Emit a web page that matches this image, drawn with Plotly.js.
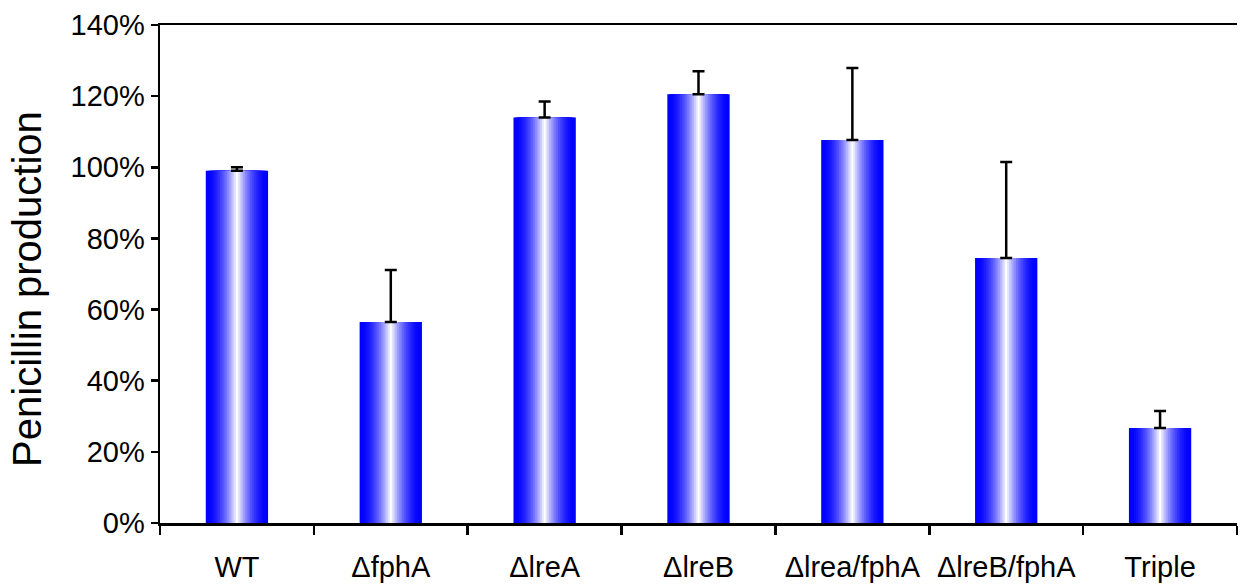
<!DOCTYPE html>
<html>
<head>
<meta charset="utf-8">
<script src="https://cdn.plot.ly/plotly-3.0.1.min.js"></script>
<style>html,body{margin:0;padding:0;background:#fff;}#chart{width:1248px;height:586px;}</style>
</head>
<body>
<div id="chart"></div>
<script>
const categories = ["WT", "ΔfphA", "ΔlreA", "ΔlreB", "Δlrea/fphA", "ΔlreB/fphA", "Triple"];
const production = [0.99, 0.565, 1.14, 1.205, 1.077, 0.745, 0.267];
const errorUp = [0.01, 0.146, 0.045, 0.065, 0.202, 0.27, 0.048];
const yTickVals = [0, 0.2, 0.4, 0.6, 0.8, 1.0, 1.2, 1.4];
const yTickText = ["0%", "20%", "40%", "60%", "80%", "100%", "120%", "140%"];
const yTitle = "Penicillin production";

// gradient simulated by overlaid bars of decreasing width
const layers = 18;
const outerWidth = 0.405;
const traces = [];
for (let i = 0; i < layers; i++) {
  const t = i / (layers - 1);
  const w = outerWidth * (1 - t) + 0.012 * t;
  const mix = Math.pow(t, 1.8);
  const rg = Math.round(255 * mix);
  const tr = {
    type: "bar",
    x: categories,
    y: production,
    width: w,
    marker: {color: `rgb(${rg},${rg},255)`, line: {width: 0}},
    hoverinfo: "skip",
    showlegend: false
  };
  if (i === layers - 1) {
    tr.error_y = {type: "data", symmetric: false, array: errorUp, arrayminus: production.map(() => 0),
                  color: "#000", thickness: 2.5, width: 6};
  }
  traces.push(tr);
}

const layout = {
  width: 1248, height: 586,
  margin: {l: 160, r: 11, t: 25, b: 63},
  paper_bgcolor: "#fff", plot_bgcolor: "#fff",
  barmode: "overlay",
  font: {family: "Liberation Sans, Arial, sans-serif", color: "#000"},
  xaxis: {
    type: "category",
    tickson: "boundaries",
    ticks: "outside", ticklen: 9, tickwidth: 2.5, tickcolor: "#000",
    showline: true, linecolor: "#000", linewidth: 2.5, mirror: true,
    showgrid: false, zeroline: false,
    tickfont: {size: 29, color: "#000"},
    ticklabelstandoff: 17
  },
  yaxis: {
    range: [0, 1.4],
    tickvals: yTickVals, ticktext: yTickText,
    ticks: "outside", ticklen: 7, tickwidth: 2.5, tickcolor: "#000",
    showline: true, linecolor: "#000", linewidth: 2.5,
    showgrid: false, zeroline: false,
    tickfont: {size: 29, color: "#000"},
    ticklabelstandoff: 0
  },
  annotations: [{
    text: yTitle, textangle: -90, showarrow: false,
    xref: "paper", yref: "paper", x: -0.1235, y: 0.47,
    xanchor: "center", yanchor: "middle",
    font: {size: 40, color: "#000"}
  }]
};

Plotly.newPlot("chart", traces, layout, {displayModeBar: false, staticPlot: true});
</script>
</body>
</html>
